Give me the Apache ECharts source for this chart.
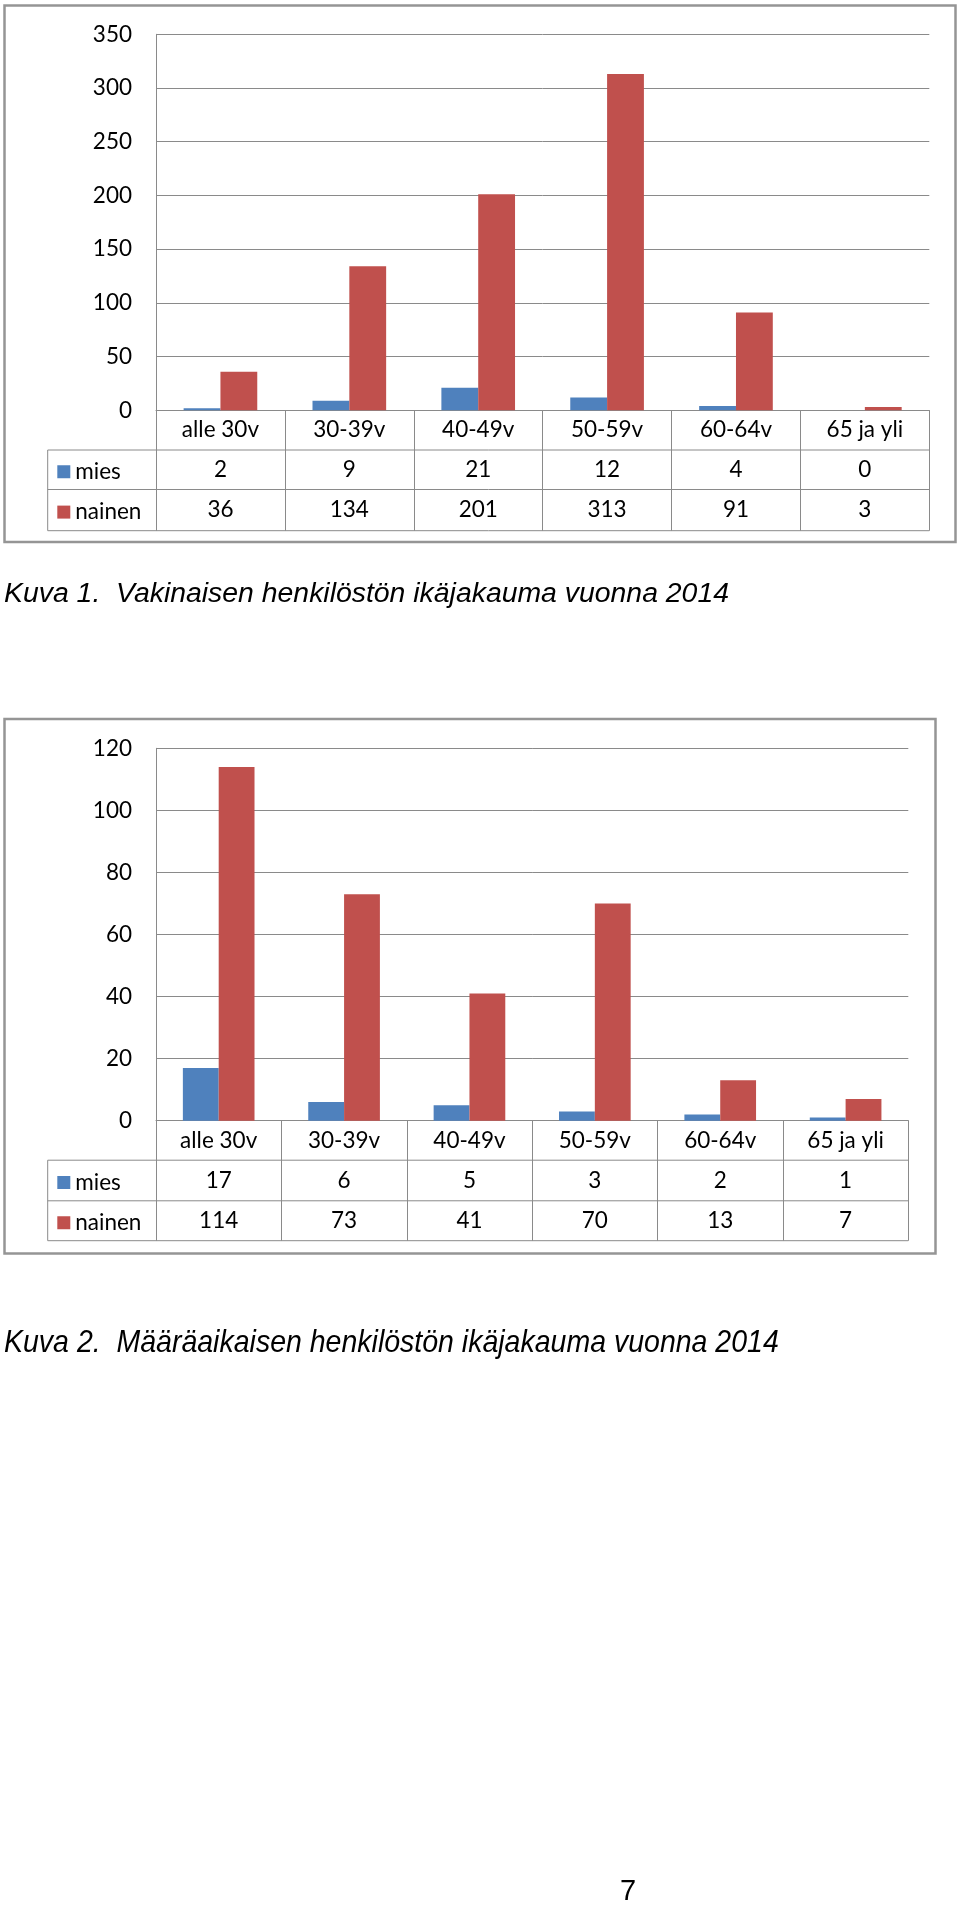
<!DOCTYPE html>
<html><head><meta charset="utf-8">
<script src="https://cdn.jsdelivr.net/npm/echarts@6/dist/echarts.min.js"></script>
<style>html,body{margin:0;padding:0;background:#fff}#c{width:960px;height:1905px}</style>
</head><body><div id="c"></div>
<script>
// ---- data ----
const categories = ['alle 30v', '30-39v', '40-49v', '50-59v', '60-64v', '65 ja yli'];
const seriesNames = ['mies', 'nainen'];
const mies1 = [2, 9, 21, 12, 4, 0];
const nainen1 = [36, 134, 201, 313, 91, 3];
const mies2 = [17, 6, 5, 3, 2, 1];
const nainen2 = [114, 73, 41, 70, 13, 7];
const yAxis1 = { min: 0, max: 350, interval: 50 };
const yAxis2 = { min: 0, max: 120, interval: 20 };
const caption1 = 'Kuva 1.  Vakinaisen henkilöstön ikäjakauma vuonna 2014';
const caption2 = 'Kuva 2.  Määräaikaisen henkilöstön ikäjakauma vuonna 2014';
const pageNumber = '7';

// ---- style / layout ----
const BLUE = '#4F81BD', RED = '#C0504D', GRID = '#8a8a8a', BORDER = '#959595';
const FONT = 'Lato';
const FS = 22.5;
const charts = [
  { left: 156, top: 34.3, right: 929.3, rows: [410.3, 450, 489.5, 530.7], tableLeft: 47.7,
    box: [4.5, 5.5, 955.5, 542], y: yAxis1, mies: mies1, nainen: nainen1 },
  { left: 156, top: 748.3, right: 908.3, rows: [1120.7, 1160.2, 1200.8, 1240.7], tableLeft: 47.7,
    box: [4.5, 719, 935.5, 1253.5], y: yAxis2, mies: mies2, nainen: nainen2 }
];

const grid = [], xAxis = [], yAxis = [], series = [], legend = [], graphic = [];
charts.forEach((c, gi) => {
  const r = c.rows;
  grid.push({ left: c.left, top: c.top, width: c.right - c.left, height: r[0] - c.top, containLabel: false });
  const base = xAxis.length;
  xAxis.push({
    type: 'category', gridIndex: gi, data: categories, position: 'bottom',
    axisLine: { show: true, lineStyle: { color: GRID, width: 1 } },
    axisTick: { show: true, length: r[3] - r[0], lineStyle: { color: GRID, width: 1 } },
    axisLabel: { margin: (r[1] - r[0]) / 2, verticalAlign: 'middle', color: '#000', fontFamily: FONT, fontSize: FS, interval: 0 },
    splitLine: { show: false }
  });
  [c.mies, c.nainen].forEach((vals, k) => {
    xAxis.push({
      type: 'category', gridIndex: gi, data: categories, position: 'bottom',
      offset: r[k + 1] - r[0],
      axisLine: { show: false }, axisTick: { show: false },
      axisLabel: { margin: (r[k + 2] - r[k + 1]) / 2, verticalAlign: 'middle', color: '#000', fontFamily: FONT, fontSize: FS, interval: 0,
        formatter: (v, i) => String(vals[i]) }
    });
  });
  yAxis.push({
    type: 'value', gridIndex: gi, min: c.y.min, max: c.y.max, interval: c.y.interval,
    axisLine: { show: true, lineStyle: { color: GRID, width: 1 } },
    axisTick: { show: false },
    axisLabel: { margin: 24, color: '#000', fontFamily: FONT, fontSize: FS },
    splitLine: { show: true, lineStyle: { color: GRID, width: 1 } }
  });
  [c.mies, c.nainen].forEach((vals, k) => {
    series.push({
      type: 'bar', name: seriesNames[k], xAxisIndex: base, yAxisIndex: gi, data: vals,
      itemStyle: { color: k === 0 ? BLUE : RED },
      barGap: '0%', barCategoryGap: '42.857%', silent: true, animation: false
    });
    legend.push({
      data: [seriesNames[k]], orient: 'vertical', left: 57.3,
      top: (r[k + 1] + r[k + 2]) / 2 - 9.5, padding: 0,
      icon: 'rect', itemWidth: 13, itemHeight: 13, itemGap: 0, itemTextGap: 8,
      selectedMode: false,
      textStyle: { color: '#000', fontFamily: FONT, fontSize: FS, lineHeight: 19 }
    });
  });
  // table lines extending into legend column
  [1, 2, 3].forEach(j => {
    graphic.push({ type: 'line', shape: { x1: c.tableLeft, y1: r[j], x2: c.right, y2: r[j] },
      style: { stroke: GRID, lineWidth: 1 }, silent: true });
  });
  graphic.push({ type: 'line', shape: { x1: c.tableLeft, y1: r[1], x2: c.tableLeft, y2: r[3] },
    style: { stroke: GRID, lineWidth: 1 }, silent: true });
  // outer chart frame
  const b = c.box;
  graphic.push({ type: 'rect', shape: { x: b[0], y: b[1], width: b[2] - b[0], height: b[3] - b[1] },
    style: { fill: 'none', stroke: BORDER, lineWidth: 2.5 }, silent: true });
});

graphic.push({ type: 'text', x: 4, y: 594, silent: true,
  style: { text: caption1, fill: '#000', font: 'italic 28.4px "Liberation Sans", Arial, sans-serif', verticalAlign: 'middle' } });
graphic.push({ type: 'text', x: 4, y: 1343, scaleY: 1.1, silent: true,
  style: { text: caption2, fill: '#000', font: 'italic 28.5px "Liberation Sans", Arial, sans-serif', verticalAlign: 'middle' } });
graphic.push({ type: 'text', x: 628, y: 1892, silent: true,
  style: { text: pageNumber, fill: '#000', font: '29px "Liberation Sans", Arial, sans-serif', align: 'center', verticalAlign: 'middle' } });

const chart = echarts.init(document.getElementById('c'), null, { renderer: 'canvas' });
chart.setOption({ animation: false, backgroundColor: '#fff', grid, xAxis, yAxis, series, legend, graphic });
</script>
</body></html>
